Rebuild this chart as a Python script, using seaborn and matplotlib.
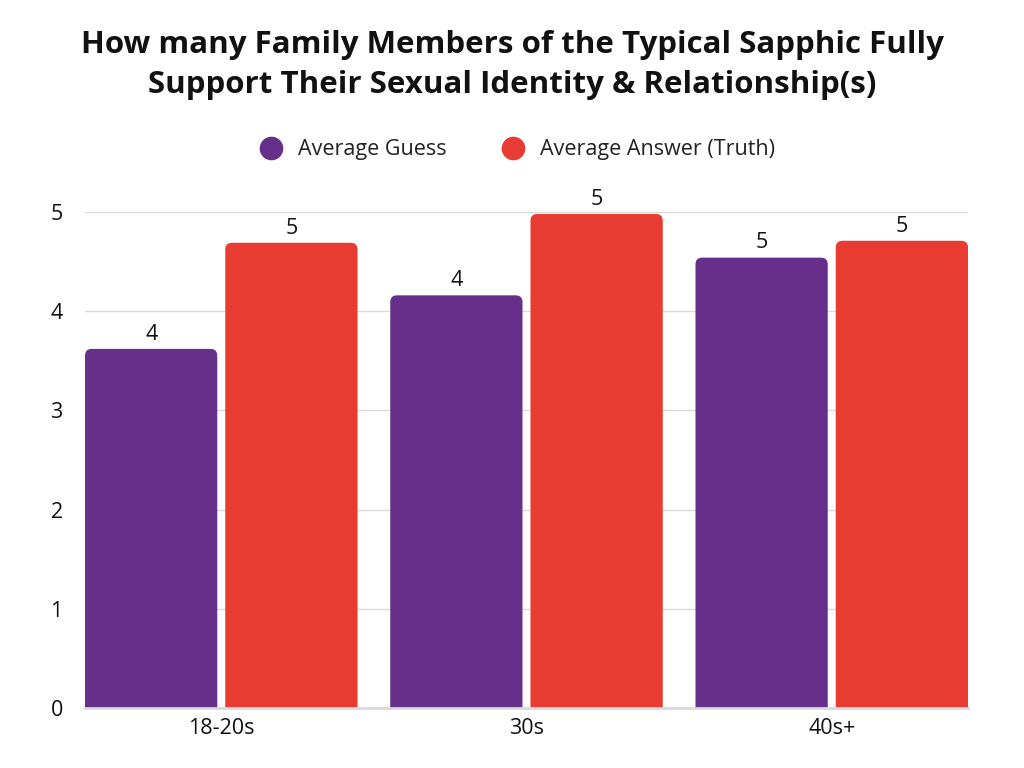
import matplotlib
matplotlib.use("Agg")
import matplotlib.pyplot as plt
from matplotlib.patches import FancyBboxPatch, Rectangle
from matplotlib.lines import Line2D
import seaborn as sns
import pandas as pd

categories = ["18-20s", "30s", "40s+"]
series_names = ["Average Guess", "Average Answer (Truth)"]
average_guess = [3.62, 4.16, 4.54]
average_truth = [4.69, 4.98, 4.71]
colors = ["#66308A", "#E83C32"]
title = "How many Family Members of the Typical Sapphic Fully\nSupport Their Sexual Identity & Relationship(s)"

df = pd.DataFrame({
    "group": categories * 2,
    "series": [series_names[0]] * 3 + [series_names[1]] * 3,
    "value": average_guess + average_truth,
})

sns.set_theme(style="white")
plt.rcParams["font.family"] = ["Open Sans", "DejaVu Sans"]

fig = plt.figure(figsize=(10.24, 7.68), dpi=100)
ax = fig.add_axes([85/1024, 1-708/768, (968-85)/1024, (708-212)/768])

sns.barplot(data=df, x="group", y="value", hue="series", palette=colors,
            width=0.919, gap=0.057, legend=False, ax=ax, saturation=1,
            linewidth=0, edgecolor="none")

for cont in ax.containers:
    ax.bar_label(cont, labels=[f"{round(v)}" for v in cont.datavalues],
                 padding=3, fontsize=15.5, color="#111111")

xl = 0.4595 - 0.0131
ax.set_xlim(-xl, 2 + xl)
ax.set_ylim(0, 5)

# rounded top corners
aspect = (883/(2 + 2*xl)) / (496/5)
rect_list = [p for p in ax.patches if isinstance(p, Rectangle)]
for p in rect_list:
    x, y = p.get_x(), p.get_y()
    w, h = p.get_width(), p.get_height()
    fc = p.get_facecolor()
    p.remove()
    r = 0.022
    ext = 0.2
    fb = FancyBboxPatch((x, y - ext), w, h + ext,
                        boxstyle=f"round,pad=0,rounding_size={r}",
                        mutation_aspect=aspect, facecolor=fc, edgecolor="none",
                        zorder=2)
    ax.add_patch(fb)

ax.set_yticks([0, 1, 2, 3, 4, 5])
ax.yaxis.grid(True, color="#d9d9d9", linewidth=1)
ax.set_axisbelow(True)
for s in ["left", "right", "top"]:
    ax.spines[s].set_visible(False)
ax.spines["bottom"].set_color("#d9d9d9")
ax.spines["bottom"].set_linewidth(2)
ax.spines["bottom"].set_zorder(3)
ax.tick_params(axis="both", length=0, labelsize=15.5, colors="#111111")
ax.tick_params(axis="y", pad=16)
ax.tick_params(axis="x", pad=7)
ax.set_xlabel("")
ax.set_ylabel("")

fig.text(0.5, 1 - 65/768, title, ha="center", va="center", fontsize=22.5,
         fontweight="bold", color="#111111", linespacing=1.42)

handles = [Line2D([0], [0], marker="o", linestyle="none", markersize=16,
                  markerfacecolor=c, markeredgecolor=c) for c in colors]
fig.legend(handles, series_names, loc="center", bbox_to_anchor=(0.5, 1 - 150/768),
           ncol=2, frameon=False, fontsize=15.5, columnspacing=2.1,
           handletextpad=0.25, labelcolor="#222222")

fig.savefig("out.png", dpi=100)
